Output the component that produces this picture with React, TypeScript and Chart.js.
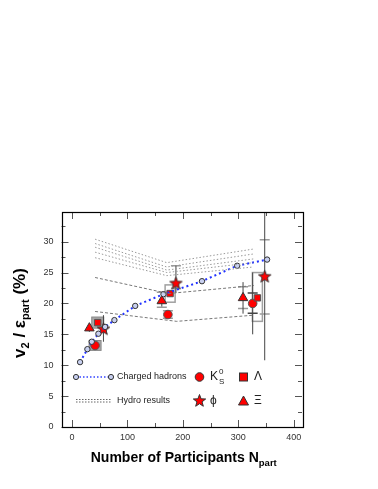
import React, { useEffect, useRef } from 'react';
import { Chart, registerables } from 'chart.js';
Chart.register(...registerables);

const FONT = '"Liberation Sans", Arial, sans-serif';

// axis ticks
const xTickValues = [0, 100, 200, 300, 400];
const yTickValues = [0, 5, 10, 15, 20, 25, 30];

// charged hadrons
const chNpart = [14.5, 27.7, 35.6, 47.6, 59.7, 76.5, 114, 165, 234.5, 298, 352];
const chV2 = [10.5, 12.6, 13.8, 15.1, 16.2, 17.3, 19.6, 21.5, 23.6, 26.1, 27.1];

// hydro results (upper five dotted curves)
const hydroUpperX = [41.6, 171, 327];
const hydroUpper1 = [30.4, 26.6, 28.8];
const hydroUpper2 = [29.7, 25.9, 28.0];
const hydroUpper3 = [29.1, 25.4, 27.2];
const hydroUpper4 = [28.3, 25.0, 26.6];
const hydroUpper5 = [27.4, 24.5, 25.9];
// hydro results (lower two dashed curves)
const hydroMidX = [41.6, 174, 328];
const hydroMidY = [24.2, 21.6, 22.9];
const hydroLowX = [41.6, 189, 328];
const hydroLowY = [18.7, 17.1, 18.1];

// K0S
const k0sX = [41.6, 173, 326];
const k0sY = [13.2, 18.2, 20.0];
const k0sErr = [0.4, 0.6, 5.0];
const k0sSysLo = [12.4, 17.6, 18.4];
const k0sSysHi = [14.0, 18.8, 21.7];
const k0sSysKind = ['box', 'caps', 'darkcaps'];

// Lambda
const lamX = [46.4, 177, 334.5];
const lamY = [16.9, 21.6, 20.9];
const lamErr = [0.3, 0.4, 0.5];
const lamSysLo = [16.0, 20.2, 17.1];
const lamSysHi = [17.8, 23.0, 25.0];
const lamSysKind = ['box', 'outline', 'outline'];

// Xi
const xiX = [31.3, 162, 308.6];
const xiY = [16.0, 20.4, 20.9];
const xiErr = [0.6, 0.9, 2.55];
const xiSysLo = [15.6, 19.4, 19.2];
const xiSysHi = [16.4, 21.8, 22.7];
const xiSysKind = ['none', 'caps', 'caps'];

// phi
const phiX = [56.7, 187.5, 347.7];
const phiY = [15.9, 23.3, 24.4];
const phiErrLo = [2.1, 1.6, 13.6];
const phiErrHi = [2.2, 2.9, 10.6];
const phiSysLo = [14.8, 22.4, 18.3];
const phiSysHi = [17.0, 26.1, 30.3];
const phiSysKind = ['none', 'caps', 'caps'];

const pts = (xs: number[], ys: number[]) => xs.map((x, i) => ({ x, y: ys[i] }));

function makeStar(): HTMLCanvasElement {
  const c = document.createElement('canvas');
  c.width = 15; c.height = 15;
  const g = c.getContext('2d')!;
  g.beginPath();
  const cx = 7.5, cy = 8, ro = 6.5, ri = 2.7;
  for (let i = 0; i < 10; i++) {
    const r = i % 2 === 0 ? ro : ri;
    const a = -Math.PI / 2 + (i * Math.PI) / 5;
    const px = cx + r * Math.cos(a), py = cy + r * Math.sin(a);
    if (i === 0) g.moveTo(px, py); else g.lineTo(px, py);
  }
  g.closePath();
  g.fillStyle = '#ff0000';
  g.fill();
  g.strokeStyle = '#333';
  g.lineWidth = 1;
  g.stroke();
  return c;
}

let starImg: HTMLCanvasElement;

const errPlugin = {
  id: 'errbars',
  beforeDatasetsDraw(chart: any) {
    const { ctx, chartArea: a, scales } = chart;
    const xs = scales.x, ys = scales.y;
    ctx.save();
    ctx.beginPath();
    ctx.rect(a.left, a.top, a.right - a.left, a.bottom - a.top);
    ctx.clip();
    chart.data.datasets.forEach((ds: any) => {
      if (!ds.errLo) return;
      ds.data.forEach((p: any, i: number) => {
        const px = xs.getPixelForValue(p.x);
        const kind = ds.sysKind[i];
        const yl = ys.getPixelForValue(ds.sysLo[i]);
        const yh = ys.getPixelForValue(ds.sysHi[i]);
        if (kind === 'box') {
          ctx.fillStyle = '#a8a8a8';
          ctx.fillRect(px - 6, yh, 12, yl - yh);
          ctx.strokeStyle = '#888';
          ctx.lineWidth = 1;
          ctx.strokeRect(px - 6, yh, 12, yl - yh);
        } else if (kind === 'outline') {
          ctx.strokeStyle = '#a0a0a0';
          ctx.lineWidth = 1.5;
          ctx.strokeRect(px - 5, yh, 10, yl - yh);
        } else if (kind === 'caps' || kind === 'darkcaps') {
          ctx.strokeStyle = kind === 'caps' ? '#9a9a9a' : '#444';
          ctx.lineWidth = 1.5;
          ctx.beginPath();
          ctx.moveTo(px - 5, yl); ctx.lineTo(px + 5, yl);
          ctx.moveTo(px - 5, yh); ctx.lineTo(px + 5, yh);
          ctx.stroke();
        }
        const el = ys.getPixelForValue(p.y - ds.errLo[i]);
        const eh = ys.getPixelForValue(p.y + ds.errHi[i]);
        ctx.strokeStyle = '#444';
        ctx.lineWidth = 1;
        ctx.beginPath();
        ctx.moveTo(px, el); ctx.lineTo(px, eh);
        ctx.stroke();
      });
    });
    ctx.restore();
  },
};

const framePlugin = {
  id: 'frame',
  afterDraw(chart: any) {
    const { ctx, chartArea: a, scales } = chart;
    const xs = scales.x, ys = scales.y;
    ctx.save();
    ctx.strokeStyle = '#555';
    ctx.lineWidth = 1;
    ctx.beginPath();
    for (let v = 0; v <= 34; v += 2.5) {
      const py = Math.round(ys.getPixelForValue(v)) + 0.5;
      const len = v % 5 === 0 ? 7 : 4;
      ctx.moveTo(a.left, py); ctx.lineTo(a.left + len, py);
      ctx.moveTo(a.right, py); ctx.lineTo(a.right - len, py);
    }
    for (let v = 0; v <= 400; v += 50) {
      const px = Math.round(xs.getPixelForValue(v)) + 0.5;
      const len = v % 100 === 0 ? 7 : 4;
      ctx.moveTo(px, a.bottom); ctx.lineTo(px, a.bottom - len);
      ctx.moveTo(px, a.top); ctx.lineTo(px, a.top + len);
    }
    ctx.stroke();
    ctx.strokeStyle = '#000';
    ctx.lineWidth = 1.2;
    ctx.strokeRect(Math.round(a.left) + 0.5, Math.round(a.top) + 0.5, Math.round(a.right - a.left), Math.round(a.bottom - a.top));

    // x title
    ctx.fillStyle = '#000';
    ctx.textBaseline = 'alphabetic';
    const main = 'Number of Participants N';
    ctx.font = `bold 14px ${FONT}`;
    const w1 = ctx.measureText(main).width;
    ctx.font = `bold 9.5px ${FONT}`;
    const w2 = ctx.measureText('part').width;
    const cx = (a.left + a.right) / 2 + 2;
    const sx = cx - (w1 + w2) / 2;
    ctx.font = `bold 14px ${FONT}`;
    ctx.fillText(main, sx, 462);
    ctx.font = `bold 9.5px ${FONT}`;
    ctx.fillText('part', sx + w1, 466);

    // y title rotated
    ctx.save();
    ctx.translate(25, 313);
    ctx.rotate(-Math.PI / 2);
    const parts: [string, number, number][] = [
      ['v', 17, 0], ['2', 11, 4], [' / ', 17, 0], ['ε', 17, 0], ['part', 11, 4], [' (%)', 17, 0],
    ];
    let tw = 0;
    parts.forEach(([t, s]) => { ctx.font = `bold ${s}px ${FONT}`; tw += ctx.measureText(t).width; });
    let ox = -tw / 2;
    parts.forEach(([t, s, dy]) => {
      ctx.font = `bold ${s}px ${FONT}`;
      ctx.fillText(t, ox, dy);
      ox += ctx.measureText(t).width;
    });
    ctx.restore();

    // legend
    const r1 = 377, r2 = 401;
    ctx.font = `9px ${FONT}`;
    ctx.textBaseline = 'middle';
    ctx.strokeStyle = '#3344ff';
    ctx.lineWidth = 1.5;
    ctx.setLineDash([1.5, 2]);
    ctx.beginPath(); ctx.moveTo(76, r1); ctx.lineTo(111, r1); ctx.stroke();
    ctx.setLineDash([]);
    [76, 111].forEach((px) => {
      ctx.beginPath(); ctx.arc(px, r1, 2.6, 0, Math.PI * 2);
      ctx.fillStyle = '#c8d0f0'; ctx.fill();
      ctx.strokeStyle = '#333'; ctx.lineWidth = 1; ctx.stroke();
    });
    ctx.fillStyle = '#222';
    ctx.fillText('Charged hadrons', 117, r1);
    ctx.strokeStyle = '#666';
    ctx.lineWidth = 1;
    ctx.setLineDash([1.5, 1.5]);
    ctx.beginPath();
    ctx.moveTo(76, r2 - 1.5); ctx.lineTo(111, r2 - 1.5);
    ctx.moveTo(76, r2 + 1); ctx.lineTo(111, r2 + 1);
    ctx.stroke();
    ctx.setLineDash([]);
    ctx.fillText('Hydro results', 117, r2);
    // K0S
    ctx.beginPath(); ctx.arc(199.5, r1, 4.3, 0, Math.PI * 2);
    ctx.fillStyle = '#ff0000'; ctx.fill(); ctx.strokeStyle = '#333'; ctx.stroke();
    ctx.fillStyle = '#222';
    ctx.font = `12px ${FONT}`;
    ctx.fillText('K', 210, r1);
    ctx.font = `8px ${FONT}`;
    ctx.fillText('0', 219, r1 - 5);
    ctx.fillText('S', 219, r1 + 5);
    // Lambda
    ctx.fillStyle = '#ff0000';
    ctx.fillRect(239.5, r1 - 4, 8, 8);
    ctx.strokeStyle = '#333'; ctx.strokeRect(239.5, r1 - 4, 8, 8);
    ctx.fillStyle = '#222';
    ctx.font = `12px ${FONT}`;
    ctx.fillText('Λ', 254, r1);
    // phi
    ctx.drawImage(starImg, 192, r2 - 8);
    ctx.fillStyle = '#222';
    ctx.fillText('ϕ', 210, r2);
    // Xi
    ctx.beginPath();
    ctx.moveTo(243.5, r2 - 5); ctx.lineTo(248.5, r2 + 4); ctx.lineTo(238.5, r2 + 4); ctx.closePath();
    ctx.fillStyle = '#ff0000'; ctx.fill(); ctx.strokeStyle = '#333'; ctx.stroke();
    ctx.fillStyle = '#222';
    ctx.fillText('Ξ', 254, r2);
    ctx.restore();
  },
};

export default function App() {
  const ref = useRef<HTMLCanvasElement>(null);
  useEffect(() => {
    if (!starImg) starImg = makeStar();
    const hydroUpperStyle = {
      showLine: true, pointRadius: 0, borderColor: '#9a9a9a', borderWidth: 1,
      borderDash: [1.5, 2], fill: false,
    };
    const hydroLowerStyle = {
      showLine: true, pointRadius: 0, borderColor: '#777', borderWidth: 1,
      borderDash: [3, 2], fill: false,
    };
    const chart = new Chart(ref.current!, {
      type: 'scatter',
      data: {
        datasets: [
          { ...hydroUpperStyle, data: pts(hydroUpperX, hydroUpper1) },
          { ...hydroUpperStyle, data: pts(hydroUpperX, hydroUpper2) },
          { ...hydroUpperStyle, data: pts(hydroUpperX, hydroUpper3) },
          { ...hydroUpperStyle, data: pts(hydroUpperX, hydroUpper4) },
          { ...hydroUpperStyle, data: pts(hydroUpperX, hydroUpper5) },
          { ...hydroLowerStyle, data: pts(hydroMidX, hydroMidY) },
          { ...hydroLowerStyle, data: pts(hydroLowX, hydroLowY) },
          {
            data: pts(chNpart, chV2), showLine: true, borderColor: '#2233ff', borderWidth: 2,
            borderDash: [2, 3], pointRadius: 2.7, pointBackgroundColor: '#c8d0f0',
            pointBorderColor: '#333', pointBorderWidth: 1,
          },
          {
            data: pts(xiX, xiY), pointStyle: 'triangle', pointRadius: 5.5,
            backgroundColor: '#ff0000', borderColor: '#333', borderWidth: 1,
            errLo: xiErr, errHi: xiErr, sysLo: xiSysLo, sysHi: xiSysHi, sysKind: xiSysKind,
          } as any,
          {
            data: pts(lamX, lamY), pointStyle: 'rect', pointRadius: 4.5,
            backgroundColor: '#ff0000', borderColor: '#555', borderWidth: 1,
            errLo: lamErr, errHi: lamErr, sysLo: lamSysLo, sysHi: lamSysHi, sysKind: lamSysKind,
          } as any,
          {
            data: pts(k0sX, k0sY), pointStyle: 'circle', pointRadius: 4.3,
            backgroundColor: '#ff0000', borderColor: '#555', borderWidth: 1,
            errLo: k0sErr, errHi: k0sErr, sysLo: k0sSysLo, sysHi: k0sSysHi, sysKind: k0sSysKind,
          } as any,
          {
            data: pts(phiX, phiY), pointStyle: starImg, pointRadius: 7,
            errLo: phiErrLo, errHi: phiErrHi, sysLo: phiSysLo, sysHi: phiSysHi, sysKind: phiSysKind,
          } as any,
        ],
      },
      options: {
        animation: false,
        responsive: false,
        events: [],
        layout: { padding: { top: 212, right: 76, left: 0, bottom: 0 } },
        plugins: { legend: { display: false }, tooltip: { enabled: false } },
        scales: {
          x: {
            type: 'linear', min: -19, max: 415,
            grid: { display: false, drawTicks: false },
            border: { display: false },
            afterFit: (s: any) => { s.height = 62; },
            afterBuildTicks: (s: any) => { s.ticks = xTickValues.map((v) => ({ value: v })); },
            ticks: { padding: 5, color: '#333', font: { size: 9, family: FONT }, maxRotation: 0 },
          },
          y: {
            type: 'linear', min: 0, max: 34.8,
            grid: { display: false, drawTicks: false },
            border: { display: false },
            afterFit: (s: any) => { s.width = 61.5; },
            afterBuildTicks: (s: any) => { s.ticks = yTickValues.map((v) => ({ value: v })); },
            ticks: { padding: 8, color: '#333', font: { size: 9, family: FONT } },
          },
        },
      },
      plugins: [errPlugin, framePlugin],
    } as any);
    return () => chart.destroy();
  }, []);
  return (
    <div style={{ position: 'absolute', left: 0, top: 0, width: 378, height: 489 }}>
      <canvas ref={ref} width={378} height={489} style={{ display: 'block' }} />
    </div>
  );
}
